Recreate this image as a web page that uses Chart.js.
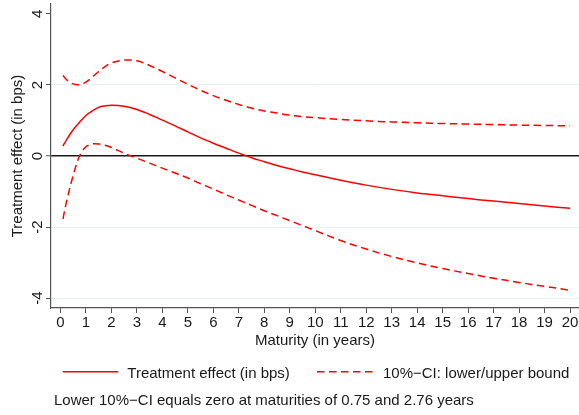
<!DOCTYPE html>
<html><head><meta charset="utf-8">
<script src="https://cdn.jsdelivr.net/npm/chart.js@4.4.0/dist/chart.umd.min.js"></script>
<style>html,body{margin:0;padding:0;background:#fff;}#wrap{width:579px;height:415px;}</style>
</head><body><div id="wrap"><canvas id="c" width="579" height="415"></canvas></div>
<script>
const maturity = [0.1,0.25,0.5,0.75,1,1.25,1.5,1.75,2,2.5,3,3.5,4,4.5,5,5.5,6,6.5,7,7.5,8,8.5,9,9.5,10,11,12,13,14,15,16,17,18,19,20];
const effect   = [0.28,0.47,0.74,0.95,1.14,1.27,1.37,1.41,1.43,1.40,1.31,1.17,1.01,0.85,0.68,0.51,0.36,0.22,0.08,-0.05,-0.16,-0.27,-0.36,-0.45,-0.53,-0.68,-0.82,-0.94,-1.04,-1.12,-1.20,-1.27,-1.34,-1.41,-1.47];
const lowerCI  = [-1.77,-1.25,-0.55,0.00,0.26,0.34,0.34,0.30,0.24,0.08,-0.06,-0.20,-0.34,-0.48,-0.62,-0.78,-0.93,-1.09,-1.24,-1.39,-1.54,-1.68,-1.82,-1.96,-2.10,-2.38,-2.62,-2.83,-3.01,-3.17,-3.31,-3.44,-3.56,-3.67,-3.78];
const upperCI  = [2.27,2.14,2.03,2.01,2.08,2.22,2.38,2.52,2.62,2.70,2.68,2.55,2.38,2.20,2.02,1.85,1.70,1.57,1.45,1.35,1.27,1.21,1.15,1.11,1.08,1.03,0.99,0.96,0.935,0.915,0.90,0.885,0.87,0.86,0.85];
const xTicks = [0,1,2,3,4,5,6,7,8,9,10,11,12,13,14,15,16,17,18,19,20];
const yTicks = [-4,-2,0,2,4];
const yTickLabels = ['-4','-2','0','2','4'];
const seriesLabels = ['Treatment effect (in bps)', '10%\u2212CI: lower/upper bound'];
const xTitle = 'Maturity (in years)';
const yTitle = 'Treatment effect (in bps)';
const noteText = 'Lower 10%\u2212CI equals zero at maturities of 0.75 and 2.76 years';

const FONT = '"Liberation Sans", Arial, Helvetica, sans-serif';
const TXT = '#1a1a1a';
const AX = '#555555';
const RED = '#ff0000';
const DASH = [7.5, 4.5];

const pts = arr => maturity.map((m, i) => ({x: m, y: arr[i]}));

const deco = {
  id: 'deco',
  afterDraw(chart) {
    const ctx = chart.ctx, ys = chart.scales.y, ca = chart.chartArea;
    ctx.save();
    ctx.fillStyle = TXT;
    ctx.font = '15px ' + FONT;
    yTicks.forEach((v, i) => {
      const py = ys.getPixelForValue(v);
      ctx.save(); ctx.translate(41.5, py); ctx.rotate(-Math.PI/2);
      ctx.textAlign = 'center'; ctx.textBaseline = 'alphabetic';
      ctx.fillText(yTickLabels[i], 0, 0); ctx.restore();
    });
    ctx.save(); ctx.translate(21.5, (ca.top + ca.bottom)/2); ctx.rotate(-Math.PI/2);
    ctx.textAlign = 'center'; ctx.textBaseline = 'alphabetic';
    ctx.fillText(yTitle, 0, 0); ctx.restore();
    ctx.textAlign = 'center'; ctx.textBaseline = 'alphabetic';
    ctx.fillText(xTitle, (ca.left + ca.right)/2, 345);
    ctx.strokeStyle = RED; ctx.lineWidth = 1.5;
    ctx.beginPath(); ctx.moveTo(62.7, 371.7); ctx.lineTo(118.3, 371.7); ctx.stroke();
    ctx.setLineDash(DASH);
    ctx.beginPath(); ctx.moveTo(317, 371.7); ctx.lineTo(373, 371.7); ctx.stroke();
    ctx.setLineDash([]);
    ctx.textAlign = 'left';
    ctx.fillText(seriesLabels[0], 127.3, 377.5);
    ctx.fillText(seriesLabels[1], 383, 377.5);
    ctx.fillText(noteText, 54, 405);
    ctx.restore();
  }
};

new Chart(document.getElementById('c'), {
  type: 'scatter',
  data: {
    datasets: [
      {label: seriesLabels[0], data: pts(effect), showLine: true, borderColor: RED, borderWidth: 1.5, pointRadius: 0, tension: 0.35, fill: false},
      {label: seriesLabels[1], data: pts(lowerCI), showLine: true, borderColor: RED, borderWidth: 1.5, borderDash: DASH, pointRadius: 0, tension: 0.35, fill: false},
      {label: seriesLabels[1] + ' (upper)', data: pts(upperCI), showLine: true, borderColor: RED, borderWidth: 1.5, borderDash: DASH, pointRadius: 0, tension: 0.35, fill: false}
    ]
  },
  options: {
    responsive: false,
    animation: false,
    devicePixelRatio: 1,
    layout: {padding: {top: 4, left: 0, right: 0, bottom: 65}},
    plugins: {legend: {display: false}, tooltip: {enabled: false}},
    scales: {
      x: {
        type: 'linear', min: -0.37, max: 20.35,
        afterBuildTicks: s => { s.ticks = xTicks.map(v => ({value: v})); },
        afterFit: s => { s.height = 42; s.paddingLeft = 0; s.paddingRight = 0; },
        grid: {drawOnChartArea: false, drawTicks: true, tickLength: 5, tickColor: AX, tickWidth: 1},
        border: {display: true, color: AX, width: 1.2},
        ticks: {color: TXT, font: {family: FONT, size: 15}, padding: 1, maxRotation: 0, minRotation: 0, autoSkip: false}
      },
      y: {
        type: 'linear', min: -4.28, max: 4.28,
        afterBuildTicks: s => { s.ticks = yTicks.map(v => ({value: v})); },
        afterFit: s => { s.width = 51; s.paddingTop = 0; s.paddingBottom = 0; },
        grid: {
          drawTicks: true, tickLength: 5, tickColor: AX, tickWidth: 1,
          color: c => c.tick && c.tick.value === 0 ? '#1a1a1a' : (c.tick && c.tick.value === 4 ? 'rgba(0,0,0,0)' : '#e8f0f1'),
          lineWidth: c => c.tick && c.tick.value === 0 ? 1.5 : 1
        },
        border: {display: true, color: AX, width: 1.2},
        ticks: {display: false}
      }
    }
  },
  plugins: [deco]
});
</script></body></html>
